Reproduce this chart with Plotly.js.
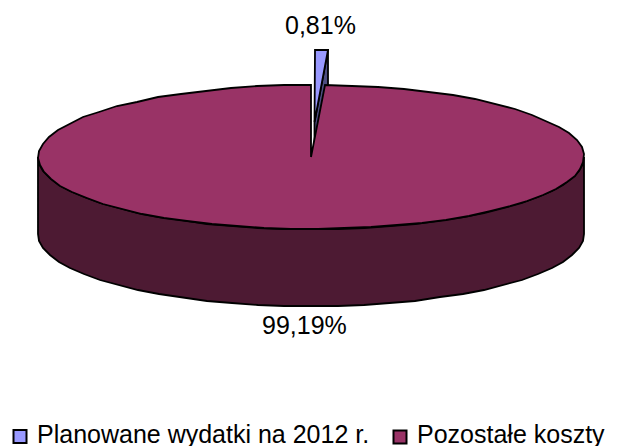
<!DOCTYPE html>
<html><head><meta charset="utf-8">
<script src="https://cdn.plot.ly/plotly-3.0.1.min.js"></script>
<style>html,body{margin:0;padding:0;background:#fff}</style></head>
<body><div id="chart" style="width:617px;height:446px"></div>
<script>
const categories = ["Planowane wydatki na 2012 r.", "Pozostałe koszty"];
const shares = [0.81, 99.19];
const shareLabels = ["0,81%", "99,19%"];
const faceColors = ["#9999FF", "#993366"];
const wallColors = ["#4D4D80", "#4D1A33"];

const cx = 311, cy = 157, rx = 273, ry = 72, depth = 77, ex = 3.5, ey = -35;
const total = shares.reduce((a, b) => a + b, 0);
const sweep = shares[0] / total * 2 * Math.PI;
const STEP = 2 * Math.PI / 64;

function pt(t, ox, oy, dz) { return [Math.round(ox + rx * Math.sin(t)), Math.round(oy - ry * Math.cos(t) + dz)]; }
function arc(a, b, ox, oy, dz) {
  const n = Math.max(1, Math.round(Math.abs(b - a) / STEP)), r = [];
  for (let i = 0; i <= n; i++) r.push(pt(a + (b - a) * i / n, ox, oy, dz));
  return r;
}
function poly(points, fill) {
  const closed = points.concat([points[0]]);
  return { x: closed.map(p => p[0]), y: closed.map(p => p[1]), mode: 'lines', fill: 'toself', fillcolor: fill,
    line: { color: '#000', width: 1.8, shape: 'linear' }, hoverinfo: 'skip', showlegend: false };
}
const bx = cx + ex, by = cy + ey;
const traces = [
  poly([[bx, by], pt(sweep, bx, by, 0), pt(sweep, bx, by, depth), [bx, by + depth]], wallColors[0]),
  poly([[bx, by]].concat(arc(0, sweep, bx, by, 0)), faceColors[0]),
  poly(arc(Math.PI / 2, 3 * Math.PI / 2, cx, cy, 0).concat(arc(3 * Math.PI / 2, Math.PI / 2, cx, cy, depth)), wallColors[1]),
  poly([[cx, cy]].concat(arc(sweep, 2 * Math.PI, cx, cy, 0)), faceColors[1])
];
const legendKeyX = [20, 400], legendKeyY = [436.5, 437], legendTextX = [35, 415];
categories.forEach((c, i) => traces.push({
  x: [legendKeyX[i]], y: [legendKeyY[i]], mode: 'markers', name: c, showlegend: false, hoverinfo: 'name',
  marker: { symbol: 'square', size: 13, color: faceColors[i], line: { color: '#000', width: 2 } }
}));
const font = { family: 'Liberation Sans, Arial, sans-serif', size: 25, color: '#000' };
const layout = {
  width: 617, height: 446, margin: { l: 0, r: 0, t: 0, b: 0 }, paper_bgcolor: '#fff', plot_bgcolor: '#fff',
  xaxis: { range: [0, 617], visible: false, fixedrange: true },
  yaxis: { range: [446, 0], visible: false, fixedrange: true },
  showlegend: false,
  annotations: [
    { x: 320.5, y: 25, text: shareLabels[0], showarrow: false, font, xref: 'x', yref: 'y' },
    { x: 304.5, y: 325, text: shareLabels[1], showarrow: false, font, xref: 'x', yref: 'y' }
  ].concat(categories.map((c, i) => ({ x: legendTextX[i], y: 433.5, text: c, showarrow: false, font, xref: 'x', yref: 'y', xanchor: 'left' })))
};
Plotly.newPlot('chart', traces, layout, { displayModeBar: false });
</script></body></html>
